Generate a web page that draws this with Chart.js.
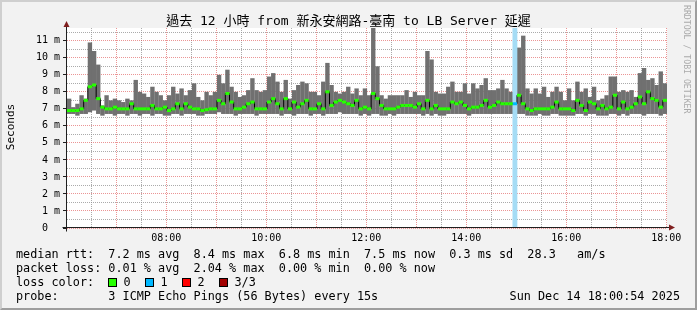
<!DOCTYPE html>
<html>
<head>
<meta charset="utf-8">
<title>smokeping</title>
<script src="https://cdn.jsdelivr.net/npm/chart.js@4.4.1/dist/chart.umd.min.js"></script>
<style>
    body { margin: 0; }
    #moldura {
        position: absolute; left: 0; top: 0; width: 697px; height: 310px;
        box-sizing: border-box; background: #f2f2f2;
        border-style: solid; border-width: 2px;
        border-color: #cfcfcf #9e9e9e #9e9e9e #cfcfcf;
    }
    #myChart { position: absolute; left: 0; top: 0; }
    .txt {
        position: absolute; white-space: pre; color: #000;
        font-family: 'DejaVu Sans Mono', 'Noto Sans CJK TC', monospace;
    }
    .legenda { left: 16px; font-size: 11.8px; line-height: 14px; }
    .caixa { position: absolute; width: 7px; height: 7px; border: 1px solid #000; top: 278px; }
</style>
</head>
<body>
<div id="moldura"></div>
<canvas id="myChart" width="697" height="310"></canvas>

<div class="txt" style="left:0; width:697px; top:13px; text-align:center; font-size:13px; line-height:16px;">過去 12 小時 from 新永安網路-臺南 to LB Server 延遲</div>
<div class="txt" style="left:-39px; top:120px; width:100px; text-align:center; font-size:11px; line-height:14px; transform:rotate(-90deg);">Seconds</div>
<div class="txt" style="left:682px; top:5px; width:10px; font-size:8.2px; line-height:10px; color:#aaaaaa; writing-mode:vertical-rl;">RRDTOOL / TOBI OETIKER</div>

<div class="txt legenda" style="top:247px;">median rtt:  7.2 ms avg  8.4 ms max  6.8 ms min  7.5 ms now  0.3 ms sd  28.3   am/s</div>
<div class="txt legenda" style="top:261px;">packet loss: 0.01 % avg  2.04 % max  0.00 % min  0.00 % now</div>
<div class="txt legenda" style="top:275px;">loss color:</div>
<div id="coresPerda"></div>
<div class="txt legenda" style="top:289px;">probe:       3 ICMP Echo Pings (56 Bytes) every 15s</div>
<div class="txt legenda" style="top:289px; left:auto; right:17px;">Sun Dec 14 18:00:54 2025</div>

<script>
    // janela de 12 horas, uma amostra a cada 5 minutos (144 amostras)
    const inicioHoras = 6.015;
    const fimHoras = 18.015;
    const passoHoras = 1 / 12;

    // maximo da "fumaca" (ms)
    const maxMs = [
        7.6, 7.1, 7.3, 7.8, 7.6, 10.9, 10.4, 9.6, 7.2, 7.8,
        7.5, 7.6, 7.5, 7.4, 7.6, 7.5, 8.7, 8.0, 7.9, 7.7,
        8.3, 8.0, 7.8, 7.5, 7.8, 8.3, 7.9, 8.2, 7.8, 8.1,
        8.5, 7.7, 7.5, 8.0, 7.8, 8.0, 9.0, 8.5, 9.3, 8.3,
        8.0, 7.7, 7.8, 8.1, 8.8, 8.1, 8.0, 8.1, 8.9, 9.1,
        8.6, 8.0, 8.7, 7.6, 8.1, 8.4, 8.6, 8.5, 8.0, 8.0,
        7.8, 8.6, 9.7, 8.4, 8.0, 7.9, 8.0, 8.3, 7.9, 8.2,
        7.8, 8.2, 7.8, 11.8, 9.5, 7.8, 7.6, 7.8, 7.8, 7.8,
        7.8, 8.1, 7.7, 8.0, 7.8, 7.8, 10.4, 9.9, 8.0, 7.9,
        7.9, 8.3, 8.6, 8.0, 8.0, 8.5, 7.9, 8.5, 8.2, 8.4,
        8.8, 8.1, 8.1, 8.2, 8.7, 8.2, 8.0, 8.7, 10.6, 11.3,
        8.2, 7.9, 8.2, 7.9, 8.3, 7.7, 8.0, 8.3, 8.0, 7.5,
        8.2, 7.5, 8.6, 8.0, 8.2, 7.7, 8.3, 7.5, 7.6, 7.8,
        8.9, 8.9, 8.0, 8.1, 8.0, 8.1, 7.7, 9.1, 9.4, 8.7,
        8.8, 8.4, 9.2, 8.5
    ];

    // minimo da "fumaca" (ms)
    const minMs = [
        6.7, 6.7, 6.6, 6.7, 6.7, 6.8, 6.9, 6.7, 6.6, 6.7,
        6.7, 6.6, 6.7, 6.7, 6.6, 6.7, 6.7, 6.6, 6.7, 6.7,
        6.6, 6.7, 6.7, 6.6, 6.6, 6.7, 6.7, 6.6, 6.7, 6.7,
        6.7, 6.6, 6.6, 6.7, 6.7, 6.7, 6.8, 6.7, 6.7, 6.7,
        6.6, 6.7, 6.7, 6.7, 6.7, 6.6, 6.7, 6.7, 6.7, 6.7,
        6.7, 6.6, 6.7, 6.7, 6.6, 6.7, 6.7, 6.7, 6.6, 6.7,
        6.7, 6.6, 6.7, 6.7, 6.7, 6.8, 6.7, 6.7, 6.7, 6.7,
        6.6, 6.7, 6.6, 6.7, 6.7, 6.6, 6.6, 6.7, 6.6, 6.7,
        6.7, 6.7, 6.7, 6.7, 6.7, 6.6, 6.7, 6.6, 6.7, 6.6,
        6.6, 6.7, 6.7, 6.7, 6.7, 6.7, 6.6, 6.7, 6.7, 6.7,
        6.7, 6.7, 6.7, 6.7, 6.7, 6.7, 6.7, 6.7, 6.7, 6.7,
        6.6, 6.6, 6.6, 6.7, 6.6, 6.6, 6.7, 6.7, 6.6, 6.6,
        6.6, 6.6, 6.7, 6.7, 6.6, 6.7, 6.7, 6.6, 6.6, 6.6,
        6.7, 6.7, 6.6, 6.7, 6.6, 6.7, 6.7, 6.7, 6.6, 6.7,
        6.7, 6.7, 6.6, 6.7
    ];

    // mediana (ms)
    const medianaMs = [
        6.9, 6.9, 6.9, 7.0, 7.5, 8.3, 8.4, 7.6, 7.1, 7.0,
        7.0, 7.1, 7.0, 7.0, 7.0, 7.3, 7.0, 7.0, 7.0, 7.0,
        7.2, 7.0, 7.0, 7.1, 6.9, 7.0, 7.3, 7.0, 7.3, 7.1,
        7.0, 7.0, 6.9, 6.95, 7.0, 7.0, 7.5, 7.3, 7.9, 7.4,
        7.0, 7.0, 7.1, 7.3, 7.4, 7.0, 7.0, 7.0, 7.4, 7.6,
        7.3, 7.0, 7.6, 7.0, 7.4, 7.1, 7.3, 7.5, 7.0, 7.0,
        7.3, 7.0, 8.0, 7.2, 7.4, 7.5, 7.4, 7.3, 7.2, 7.5,
        7.0, 7.1, 7.0, 7.9, 7.6, 7.2, 7.0, 7.0, 7.0, 7.1,
        7.2, 7.2, 7.2, 7.1, 7.3, 7.0, 7.5, 7.0, 7.2, 7.0,
        7.0, 7.0, 7.4, 7.3, 7.4, 7.2, 7.0, 7.1, 7.1, 7.2,
        7.5, 7.1, 7.2, 7.4, 7.3, 7.3, 7.3, 7.3, 7.8, 7.3,
        7.0, 6.9, 7.0, 7.0, 7.0, 7.0, 7.1, 7.4, 7.0, 7.0,
        7.0, 6.9, 7.5, 7.2, 6.9, 7.4, 7.3, 7.0, 7.2, 7.0,
        7.1, 7.8, 7.0, 7.4, 7.0, 7.1, 7.3, 7.7, 7.3, 8.0,
        7.6, 7.5, 7.1, 7.5
    ];

    // amostras com perda de 1 de 3 pings
    const indicesPerda = [107];

    // eixos
    const yMax = 11.75;
    const yTicks = [0, 0.5, 1, 1.5, 2, 2.5, 3, 3.5, 4, 4.5, 5, 5.5, 6, 6.5, 7, 7.5, 8, 8.5, 9, 9.5, 10, 10.5, 11, 11.5];
    const xTicks = [6.5, 7, 7.5, 8, 8.5, 9, 9.5, 10, 10.5, 11, 11.5, 12, 12.5, 13, 13.5, 14, 14.5, 15, 15.5, 16, 16.5, 17, 17.5, 18];

    // legenda das cores de perda
    const perdaLabels = ['0', '1', '2', '3/3'];
    const perdaCores = ['#26ff00', '#00b8ff', '#ff0000', '#a10000'];

    const corGrade = 'rgba(143, 143, 143, 0.75)';
    const corGradeMaior = 'rgba(222, 79, 79, 0.6)';
    const fonteMono = 'DejaVu Sans Mono';

    function horaDaAmostra(i) {
        return inicioHoras + (i + 0.5) * passoHoras;
    }

    function ehInteiro(ctx) {
        return ctx.tick && Number.isInteger(ctx.tick.value);
    }

    // caixinhas da legenda "loss color"
    const coresPerda = document.getElementById('coresPerda');
    for (let k = 0; k < perdaLabels.length; k++) {
        const caixa = document.createElement('span');
        caixa.className = 'caixa';
        caixa.style.left = (108 + 37 * k) + 'px';
        caixa.style.background = perdaCores[k];
        coresPerda.appendChild(caixa);
        const rotulo = document.createElement('div');
        rotulo.className = 'txt';
        rotulo.style.cssText = 'top:275px; font-size:11.8px; line-height:14px; left:' + (123.5 + 37 * k) + 'px;';
        rotulo.textContent = perdaLabels[k];
        coresPerda.appendChild(rotulo);
    }

    // fundo branco + eixos com setas (estilo rrdtool)
    const eixosPlugin = {
        id: 'eixos',
        beforeDraw(chart) {
            const { ctx, chartArea } = chart;
            ctx.save();
            ctx.fillStyle = '#ffffff';
            ctx.fillRect(chartArea.left, chartArea.top, chartArea.right - chartArea.left, chartArea.bottom - chartArea.top);
            ctx.restore();
        },
        afterDraw(chart) {
            const { ctx, chartArea } = chart;
            const x0 = chartArea.left - 0.5;
            const y0 = chartArea.bottom - 0.5;
            ctx.save();
            ctx.strokeStyle = '#1f1f1f';
            ctx.lineWidth = 1;
            ctx.beginPath();
            ctx.moveTo(x0, y0 + 4);
            ctx.lineTo(x0, chartArea.top - 2);
            ctx.moveTo(x0 - 4, y0);
            ctx.lineTo(chartArea.right + 3, y0);
            ctx.stroke();
            ctx.fillStyle = '#801f1f';
            ctx.beginPath();
            ctx.moveTo(x0, chartArea.top - 7);
            ctx.lineTo(x0 - 3, chartArea.top - 1);
            ctx.lineTo(x0 + 3, chartArea.top - 1);
            ctx.closePath();
            ctx.fill();
            ctx.beginPath();
            ctx.moveTo(chartArea.right + 8, y0);
            ctx.lineTo(chartArea.right + 2, y0 - 3);
            ctx.lineTo(chartArea.right + 2, y0 + 3);
            ctx.closePath();
            ctx.fill();
            ctx.restore();
        }
    };

    const dados = {
        datasets: [
            {
                type: 'line',
                label: 'mediana',
                data: medianaMs.map((m, i) => ({ x: horaDaAmostra(i), y: m })),
                stepped: 'middle',
                borderColor: '#000000',
                borderWidth: 1,
                pointStyle: 'line',
                pointRadius: 2.1,
                pointBorderWidth: 3,
                pointBorderColor: medianaMs.map((m, i) => indicesPerda.includes(i) ? perdaCores[1] : perdaCores[0]),
                order: 1
            },
            {
                type: 'bar',
                label: 'perda',
                data: indicesPerda.map(i => ({ x: horaDaAmostra(i), y: [0, yMax] })),
                backgroundColor: '#a5dcf5',
                grouped: false,
                barPercentage: 1,
                categoryPercentage: 1,
                order: 2
            },
            {
                type: 'bar',
                label: 'fumaca',
                data: maxMs.map((hi, i) => ({ x: horaDaAmostra(i), y: [minMs[i], hi] })),
                backgroundColor: '#707070',
                grouped: false,
                barPercentage: 1.05,
                categoryPercentage: 1,
                order: 3
            }
        ]
    };

    const config = {
        type: 'bar',
        data: dados,
        plugins: [eixosPlugin],
        options: {
            responsive: false,
            animation: false,
            events: [],
            layout: { padding: { left: 0, right: 30, top: 28, bottom: 0 } },
            plugins: { legend: { display: false }, tooltip: { enabled: false } },
            scales: {
                x: {
                    type: 'linear',
                    offset: false,
                    min: inicioHoras,
                    max: fimHoras,
                    afterBuildTicks: s => { s.ticks = xTicks.map(v => ({ value: v })); },
                    afterFit: s => { s.height = 82; },
                    grid: {
                        offset: false,
                        color: c => ehInteiro(c) ? corGradeMaior : corGrade,
                        lineWidth: 1,
                        drawTicks: false
                    },
                    border: { display: false, dash: [1, 1] },
                    ticks: {
                        autoSkip: false,
                        maxRotation: 0,
                        padding: 4,
                        color: '#000',
                        font: { family: fonteMono, size: 10 },
                        callback: v => (v % 2 === 0) ? String(v).padStart(2, '0') + ':00' : ''
                    }
                },
                y: {
                    min: 0,
                    max: yMax,
                    afterBuildTicks: s => { s.ticks = yTicks.map(v => ({ value: v })); },
                    afterFit: s => { s.width = 67; },
                    grid: {
                        color: c => ehInteiro(c) ? corGradeMaior : corGrade,
                        lineWidth: 1,
                        drawTicks: true,
                        tickLength: 4,
                        tickColor: c => ehInteiro(c) ? '#1f1f1f' : 'rgba(0,0,0,0)'
                    },
                    border: { display: false, dash: [1, 1] },
                    ticks: {
                        autoSkip: false,
                        padding: 3,
                        color: '#000',
                        font: { family: fonteMono, size: 10 },
                        callback: v => Number.isInteger(v) ? (v === 0 ? '0  ' : v + ' m') : ''
                    }
                }
            }
        }
    };

    const myChart = new Chart(document.getElementById('myChart'), config);
</script>
</body>
</html>
